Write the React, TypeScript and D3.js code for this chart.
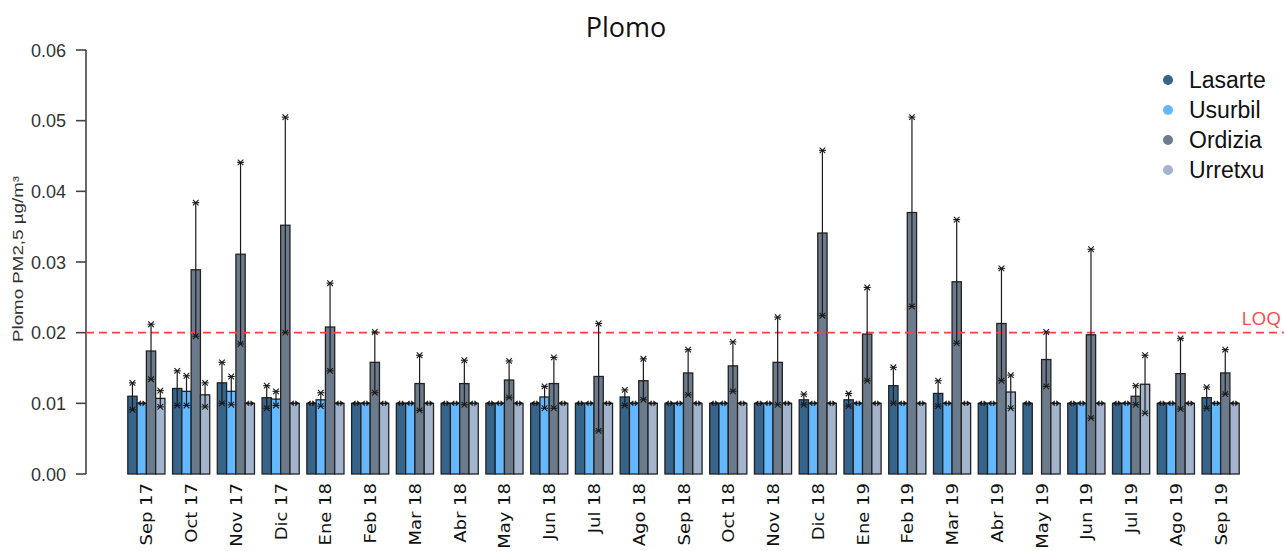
import React from "react";
import * as d3 from "d3";

// Monthly lead (Pb) in PM2.5 at four sampling stations, with min/max ranges.
const months = [
  "Sep 17", "Oct 17", "Nov 17", "Dic 17", "Ene 18", "Feb 18", "Mar 18", "Abr 18",
  "May 18", "Jun 18", "Jul 18", "Ago 18", "Sep 18", "Oct 18", "Nov 18", "Dic 18",
  "Ene 19", "Feb 19", "Mar 19", "Abr 19", "May 19", "Jun 19", "Jul 19", "Ago 19", "Sep 19",
];

const stations = ["Lasarte", "Usurbil", "Ordizia", "Urretxu"];
const stationColors = ["#36648B", "#63B8FF", "#6C7B8B", "#A2B5CD"];

const lasarte = [0.011, 0.0121, 0.0129, 0.0108, 0.01, 0.01, 0.01, 0.01, 0.01, 0.01, 0.01, 0.0109, 0.01, 0.01, 0.01, 0.0105, 0.0105, 0.0125, 0.0114, 0.01, 0.01, 0.01, 0.01, 0.01, 0.0108];
const lasarteHi = [0.0129, 0.0146, 0.0158, 0.0125, 0.01, 0.01, 0.01, 0.01, 0.01, 0.01, 0.01, 0.0119, 0.01, 0.01, 0.01, 0.0113, 0.0114, 0.0151, 0.0132, 0.01, 0.01, 0.01, 0.01, 0.01, 0.0123];
const lasarteLo = [0.0091, 0.0097, 0.01, 0.0093, 0.01, 0.01, 0.01, 0.01, 0.01, 0.01, 0.01, 0.0097, 0.01, 0.01, 0.01, 0.0098, 0.0096, 0.01, 0.0096, 0.01, 0.01, 0.01, 0.01, 0.01, 0.0093];

const usurbil = [0.01, 0.0117, 0.0117, 0.0106, 0.0105, 0.01, 0.01, 0.01, 0.01, 0.0109, 0.01, 0.01, 0.01, 0.01, 0.01, 0.01, 0.01, 0.01, 0.01, 0.01, null, 0.01, 0.01, 0.01, 0.01];
const usurbilHi = [0.01, 0.0139, 0.0138, 0.0117, 0.0115, 0.01, 0.01, 0.01, 0.01, 0.0124, 0.01, 0.01, 0.01, 0.01, 0.01, 0.01, 0.01, 0.01, 0.01, 0.01, null, 0.01, 0.01, 0.01, 0.01];
const usurbilLo = [0.01, 0.0097, 0.0098, 0.0097, 0.0096, 0.01, 0.01, 0.01, 0.01, 0.0093, 0.01, 0.01, 0.01, 0.01, 0.01, 0.01, 0.01, 0.01, 0.01, 0.01, null, 0.01, 0.01, 0.01, 0.01];

const ordizia = [0.0174, 0.0289, 0.0311, 0.0352, 0.0208, 0.0158, 0.0128, 0.0128, 0.0133, 0.0128, 0.0138, 0.0132, 0.0143, 0.0153, 0.0158, 0.0341, 0.0198, 0.037, 0.0272, 0.0213, 0.0162, 0.0197, 0.011, 0.0142, 0.0143];
const ordiziaHi = [0.0212, 0.0384, 0.0441, 0.0505, 0.027, 0.0201, 0.0168, 0.0161, 0.016, 0.0165, 0.0213, 0.0163, 0.0176, 0.0187, 0.0222, 0.0458, 0.0264, 0.0505, 0.036, 0.0291, 0.0201, 0.0318, 0.0125, 0.0192, 0.0176];
const ordiziaLo = [0.0134, 0.0195, 0.0184, 0.02, 0.0146, 0.0115, 0.009, 0.0098, 0.0108, 0.0093, 0.0061, 0.0105, 0.0112, 0.0117, 0.0098, 0.0224, 0.0132, 0.0237, 0.0185, 0.0132, 0.0124, 0.0079, 0.0098, 0.0092, 0.0113];

const urretxu = [0.0107, 0.0112, 0.01, 0.01, 0.01, 0.01, 0.01, 0.01, 0.01, 0.01, 0.01, 0.01, 0.01, 0.01, 0.01, 0.01, 0.01, 0.01, 0.01, 0.0116, 0.01, 0.01, 0.0127, 0.01, 0.01];
const urretxuHi = [0.0118, 0.0129, 0.01, 0.01, 0.01, 0.01, 0.01, 0.01, 0.01, 0.01, 0.01, 0.01, 0.01, 0.01, 0.01, 0.01, 0.01, 0.01, 0.01, 0.014, 0.01, 0.01, 0.0168, 0.01, 0.01];
const urretxuLo = [0.0095, 0.0095, 0.01, 0.01, 0.01, 0.01, 0.01, 0.01, 0.01, 0.01, 0.01, 0.01, 0.01, 0.01, 0.01, 0.01, 0.01, 0.01, 0.01, 0.0093, 0.01, 0.01, 0.0086, 0.01, 0.01];

const yTicks = [0, 0.01, 0.02, 0.03, 0.04, 0.05, 0.06];
const loq = 0.02;

const series = [
  { values: lasarte, hi: lasarteHi, lo: lasarteLo },
  { values: usurbil, hi: usurbilHi, lo: usurbilLo },
  { values: ordizia, hi: ordiziaHi, lo: ordiziaLo },
  { values: urretxu, hi: urretxuHi, lo: urretxuLo },
];

const W = 1284;
const H = 551;

const y = d3.scaleLinear().domain([0, 0.06]).range([474, 50]);
const x = d3.scaleBand<string>().domain(months).range([124, 1243]).paddingInner(0.17).paddingOuter(0.085);
const xs = d3.scaleBand<string>().domain(stations).range([0, x.bandwidth()]).padding(0);

const ink = "#1a1a1a";

function EndMark({ cx, cy }: { cx: number; cy: number }) {
  // small asterisk-like cap at the end of a range line
  const s = 2.8;
  return (
    <g stroke={ink} strokeWidth={1.1}>
      <line x1={cx - s} y1={cy - s} x2={cx + s} y2={cy + s} />
      <line x1={cx - s} y1={cy + s} x2={cx + s} y2={cy - s} />
      <line x1={cx - 3.5} y1={cy} x2={cx + 3.5} y2={cy} />
    </g>
  );
}

function FlatMark({ cx, cy }: { cx: number; cy: number }) {
  // zero-length range: a tiny double arrow head
  const path = d3.path();
  path.moveTo(cx - 4, cy);
  path.lineTo(cx - 1, cy - 2.5);
  path.lineTo(cx - 1, cy + 2.5);
  path.closePath();
  path.moveTo(cx + 4, cy);
  path.lineTo(cx + 1, cy - 2.5);
  path.lineTo(cx + 1, cy + 2.5);
  path.closePath();
  return (
    <g>
      <line x1={cx - 4.5} y1={cy} x2={cx + 4.5} y2={cy} stroke={ink} strokeWidth={1.1} />
      <path d={path.toString()} fill={ink} stroke={ink} strokeWidth={0.6} />
    </g>
  );
}

export default function App() {
  const legendX = 1168;
  const legendY = [80, 110, 140, 170];

  return (
    <svg
      width={W}
      height={H}
      viewBox={`0 0 ${W} ${H}`}
      style={{ position: "absolute", left: 0, top: 0, background: "#fff" }}
      fontFamily="'Liberation Sans', Arial, sans-serif"
    >
      <rect x={0} y={0} width={W} height={H} fill="#fff" />

      {/* title */}
      <text x={626} y={37} textAnchor="middle" fontFamily="'Open Sans', sans-serif" fontSize={27} fill="#111">
        Plomo
      </text>

      {/* y axis */}
      <line x1={86} x2={86} y1={y(0.06)} y2={y(0)} stroke="#444" strokeWidth={1.6} />
      {yTicks.map((t) => (
        <g key={t}>
          <line x1={76} x2={86} y1={y(t)} y2={y(t)} stroke="#444" strokeWidth={1.6} />
          <text x={66} y={y(t) + 6.5} textAnchor="end" fontSize={18} fill="#333">
            {d3.format(".2f")(t)}
          </text>
        </g>
      ))}
      <text
        transform="translate(23, 259) rotate(-90)"
        textAnchor="middle"
        fontSize={15}
        fill="#333"
        textLength={166}
        lengthAdjust="spacingAndGlyphs"
      >
        Plomo PM2,5 µg/m³
      </text>

      {/* bars */}
      {months.map((m, i) => (
        <g key={m} transform={`translate(${x(m)},0)`}>
          {series.map((s, k) => {
            const v = s.values[i];
            if (v == null) return null;
            const bx = xs(stations[k])!;
            return (
              <rect
                key={k}
                x={bx}
                y={y(v)}
                width={xs.bandwidth()}
                height={y(0) - y(v)}
                fill={stationColors[k]}
                stroke="#222"
                strokeWidth={1.3}
              />
            );
          })}
        </g>
      ))}

      {/* LOQ reference line */}
      <line x1={86} x2={W} y1={y(loq)} y2={y(loq)} stroke="#ff4040" strokeWidth={1.6} strokeDasharray="8 5" />
      <text x={1281} y={y(loq) - 8} textAnchor="end" fontFamily="'Open Sans', sans-serif" fontSize={19} fill="#ff4a4a">
        LOQ
      </text>

      {/* min/max ranges */}
      {months.map((m, i) => (
        <g key={m} transform={`translate(${x(m)},0)`}>
          {series.map((s, k) => {
            const v = s.values[i];
            const hi = s.hi[i];
            const lo = s.lo[i];
            if (v == null || hi == null || lo == null) return null;
            const cx = xs(stations[k])! + xs.bandwidth() / 2;
            if (Math.abs(hi - lo) < 1e-9) {
              return <FlatMark key={k} cx={cx} cy={y(v)} />;
            }
            return (
              <g key={k}>
                <line x1={cx} x2={cx} y1={y(hi)} y2={y(lo)} stroke={ink} strokeWidth={1.2} />
                <EndMark cx={cx} cy={y(hi)} />
                <EndMark cx={cx} cy={y(lo)} />
              </g>
            );
          })}
        </g>
      ))}

      {/* month labels */}
      {months.map((m) => (
        <text
          key={m}
          transform={`translate(${x(m)! + x.bandwidth() / 2 + 6}, 483) rotate(-90) scale(1.2,1)`}
          textAnchor="end"
          fontFamily="'DejaVu Sans', sans-serif"
          fontSize={15}
          fill="#111"
        >
          {m}
        </text>
      ))}

      {/* legend */}
      {stations.map((s, k) => (
        <g key={s}>
          <circle cx={legendX} cy={legendY[k]} r={5} fill={stationColors[k]} />
          <text x={legendX + 21} y={legendY[k] + 8} fontSize={23} fill="#111">
            {s}
          </text>
        </g>
      ))}
    </svg>
  );
}
